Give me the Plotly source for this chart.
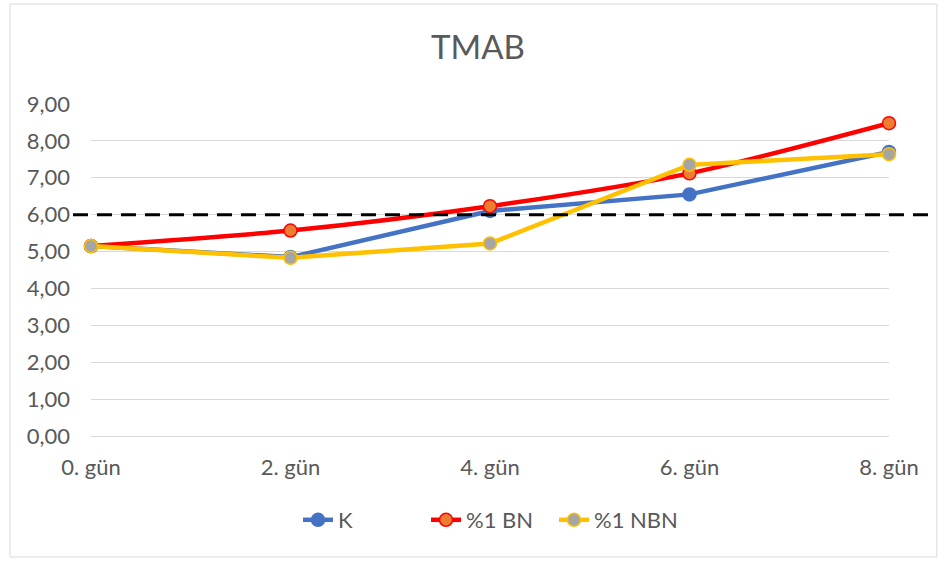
import plotly.graph_objects as go

categories = ["0. gün", "2. gün", "4. gün", "6. gün", "8. gün"]
k_values = [5.15, 4.85, 6.10, 6.55, 7.70]
bn_values = [5.15, 5.57, 6.23, 7.12, 8.48]
nbn_values = [5.15, 4.83, 5.22, 7.35, 7.64]
threshold = 6.0
y_ticks = [0, 1, 2, 3, 4, 5, 6, 7, 8, 9]
y_ticktext = [f"{v:.2f}".replace(".", ",") for v in y_ticks]

x = list(range(len(categories)))
font = "Lato, 'Open Sans', sans-serif"

fig = go.Figure()
fig.add_trace(go.Scatter(
    x=x, y=k_values, name="K", mode="lines+markers",
    line=dict(color="#4472C4", width=4.5),
    marker=dict(size=13, color="#4472C4", line=dict(color="#4472C4", width=1.5)),
    cliponaxis=False))
fig.add_trace(go.Scatter(
    x=x, y=bn_values, name="%1 BN", mode="lines+markers",
    line=dict(color="#FF0000", width=4.5, shape="spline", smoothing=0.8),
    marker=dict(size=13, color="#ED7D31", line=dict(color="#FF0000", width=1.5)),
    cliponaxis=False))
fig.add_trace(go.Scatter(
    x=x, y=nbn_values, name="%1 NBN", mode="lines+markers",
    line=dict(color="#FFC000", width=4.5),
    marker=dict(size=13, color="#A5A5A5", line=dict(color="#FFC000", width=1.5)),
    cliponaxis=False))

fig.add_shape(type="line", xref="paper", yref="y",
              x0=-0.0226, x1=1.051, y0=threshold, y1=threshold,
              line=dict(color="black", width=3, dash="15px,9px"), layer="above")
fig.add_shape(type="rect", xref="paper", yref="paper",
              x0=-0.1015, x1=1.060, y0=-0.3645, y1=1.301,
              line=dict(color="#D9D9D9", width=1))

fig.update_layout(
    width=939, height=561,
    margin=dict(l=91, r=50, t=104, b=125),
    paper_bgcolor="white", plot_bgcolor="white",
    font=dict(family=font, color="#595959", size=22),
    title=dict(text="TMAB", x=0.509, xanchor="center", y=0.915, yanchor="middle",
               font=dict(size=33, color="#595959", family=font)),
    xaxis=dict(range=[0, 4], tickvals=x, ticktext=categories, showgrid=False,
               zeroline=False, showline=False, ticks="", ticklabelstandoff=16,
               tickfont=dict(size=22, color="#595959")),
    yaxis=dict(range=[0, 9], tickvals=y_ticks, ticktext=y_ticktext,
               showgrid=True, gridcolor="#D9D9D9", gridwidth=1,
               zeroline=True, zerolinecolor="#D9D9D9", zerolinewidth=1,
               showline=False, ticks="", ticklabelstandoff=20,
               tickfont=dict(size=22, color="#595959")),
    legend=dict(orientation="h", x=0.5, xanchor="center", y=-0.253, yanchor="middle",
                font=dict(size=22, color="#595959"),
                entrywidth=83, entrywidthmode="pixels"),
    showlegend=True,
)

fig.write_html("out.html", config={"displayModeBar": False},
               post_script="document.body.style.margin='0';document.body.style.padding='0';")
